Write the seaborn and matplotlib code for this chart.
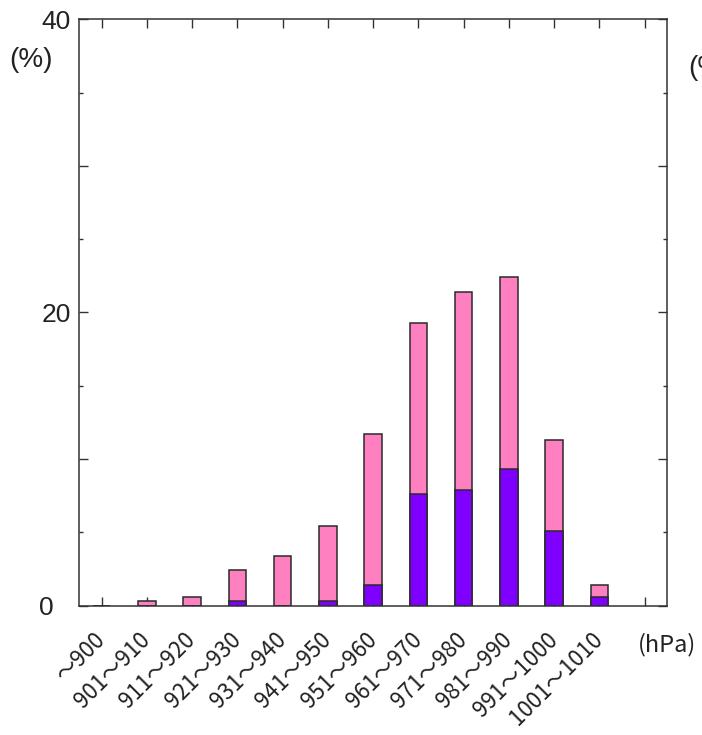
import matplotlib
matplotlib.use('Agg')
import matplotlib.pyplot as plt
import matplotlib.transforms as mtransforms
import seaborn as sns
import pandas as pd
from matplotlib.ticker import FixedLocator, FixedFormatter

categories = ['～900', '901～910', '911～920', '921～930', '931～940', '941～950',
              '951～960', '961～970', '971～980', '981～990', '991～1000', '1001～1010']
total_pct = [0, 0.3, 0.6, 2.4, 3.4, 5.4, 11.7, 19.3, 21.4, 22.4, 11.3, 1.4]
purple_pct = [0, 0, 0, 0.3, 0, 0.3, 1.4, 7.6, 7.9, 9.3, 5.1, 0.6]
y_major = [0, 10, 20, 30, 40]
y_labels = ['0', '', '20', '', '40']
y_minor = [5, 15, 25, 35]

df = pd.DataFrame({'cat': categories, 'total': total_pct, 'purple': purple_pct})

sns.set_theme(style='white')
plt.rcParams['font.family'] = ['Liberation Sans', 'DejaVu Sans']

fig = plt.figure(figsize=(7.02, 7.35), dpi=100)
ax = fig.add_axes([79/702, 1 - 605.5/735, (667.3 - 79)/702, (605.5 - 19.3)/735])

sns.barplot(data=df, x='cat', y='total', order=categories, color='#FF80C0',
            saturation=1, width=0.39, edgecolor='#2a2a2a', linewidth=1.1, ax=ax)
sns.barplot(data=df, x='cat', y='purple', order=categories, color='#8000FF',
            saturation=1, width=0.39, edgecolor='#2a2a2a', linewidth=1.1, ax=ax)

ax.set_xlim(-0.5, 12.5)
ax.set_ylim(0, 40)
ax.set_xlabel('')
ax.set_ylabel('')
ax.set_axisbelow(True)

ax.xaxis.set_major_locator(FixedLocator(list(range(13))))
ax.xaxis.set_major_formatter(FixedFormatter(categories + ['']))
ax.yaxis.set_major_locator(FixedLocator(y_major))
ax.yaxis.set_major_formatter(FixedFormatter(y_labels))
ax.yaxis.set_minor_locator(FixedLocator(y_minor))

for s in ax.spines.values():
    s.set_color('#333333')
    s.set_linewidth(1.1)

ax.tick_params(axis='both', which='major', direction='in', length=6.5, width=1.0,
               color='#333333', top=True, right=True, bottom=True, left=True)
ax.tick_params(axis='y', which='minor', direction='in', length=3, width=1.0,
               color='#333333', left=True, right=True)
ax.tick_params(axis='y', which='major', labelsize=19, pad=6, labelcolor='#222222')
ax.tick_params(axis='x', which='major', labelsize=16, pad=22, labelcolor='#222222')

for lbl in ax.get_xticklabels():
    lbl.set_rotation(45)
    lbl.set_ha('right')
    lbl.set_va('center')
    lbl.set_rotation_mode('anchor')
    lbl.set_family(['Noto Sans CJK JP', 'DejaVu Sans'])

# the "0" label sits further left than the others in the reference
zero_lbl = ax.get_yticklabels()[0]
zero_lbl.set_transform(zero_lbl.get_transform() +
                       mtransforms.ScaledTranslation(-17/100, 0, fig.dpi_scale_trans))

fig.text(31/702, 1 - 60/735, '(%)', fontsize=20, ha='center', va='center', color='#222222')
fig.text(667/702, 1 - 645/735, '(hPa)', fontsize=17, ha='center', va='center', color='#222222',
         family=['Noto Sans CJK JP', 'DejaVu Sans'])
fig.text(688/702, 1 - 68/735, '(%)', fontsize=20, ha='left', va='center', color='#222222')

fig.savefig('out.png', dpi=100)
